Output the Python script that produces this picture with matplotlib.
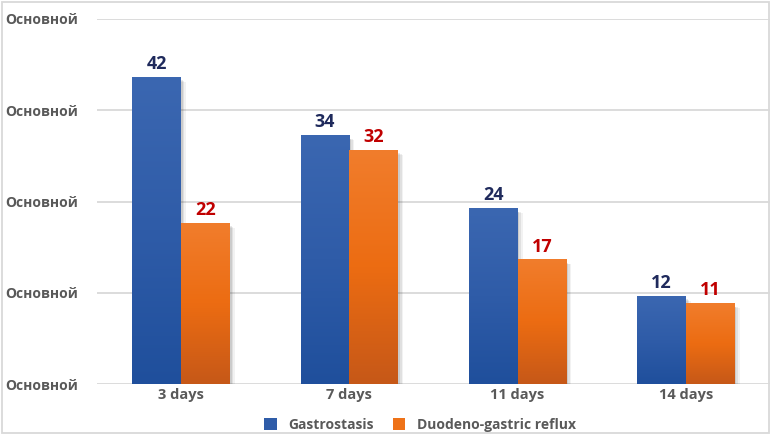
import numpy as np
import matplotlib.pyplot as plt
from matplotlib.patches import Rectangle
from matplotlib.colors import LinearSegmentedColormap

# Data
categories = ["3 days", "7 days", "11 days", "14 days"]
gastrostasis = [42, 34, 24, 12]
reflux = [22, 32, 17, 11]
series_names = ["Gastrostasis", "Duodeno-gastric reflux"]
y_ticks = [0, 12.5, 25, 37.5, 50]
y_tick_labels = ["Основной"] * 5

plt.rcParams['font.family'] = ['Open Sans', 'DejaVu Sans']

blue_cmap = LinearSegmentedColormap.from_list("b", ["#3b67b1", "#2f5ca8", "#1f4f9c"])
orange_cmap = LinearSegmentedColormap.from_list("o", ["#f17d2c", "#ec6c12", "#c65818"])

fig = plt.figure(figsize=(7.75, 4.45), dpi=100)
ax = fig.add_axes([97 / 775, 61 / 445, 673 / 775, 365 / 445])

x = np.arange(len(categories))
w = 0.29
grad = np.linspace(0, 1, 256).reshape(-1, 1)


def gradient_bar(xc, h, cmap):
    # soft shadow
    for k, a in zip([0.03, 0.02, 0.01], [0.05, 0.07, 0.09]):
        ax.add_patch(Rectangle((xc - w / 2 + k, -0.6 - k * 10), w, h + 0.3,
                               facecolor="black", alpha=a, lw=0, zorder=2))
    ax.imshow(grad, cmap=cmap, aspect="auto", extent=(xc - w / 2, xc + w / 2, 0, h),
              origin="upper", zorder=3)


for i in range(len(categories)):
    gradient_bar(x[i] - w / 2, gastrostasis[i], blue_cmap)
    gradient_bar(x[i] + w / 2, reflux[i], orange_cmap)
    ax.text(x[i] - w / 2, gastrostasis[i] + 0.6, str(gastrostasis[i]), ha="center", va="bottom",
            fontsize=13, fontweight="bold", color="#1f2a5c", zorder=4)
    ax.text(x[i] + w / 2, reflux[i] + 0.6, str(reflux[i]), ha="center", va="bottom",
            fontsize=13, fontweight="bold", color="#c00000", zorder=4)

ax.set_xlim(-0.5, len(categories) - 0.5)
ax.set_ylim(0, 50)
ax.set_yticks(y_ticks)
ax.set_yticklabels(y_tick_labels, ha="left", fontsize=10, fontweight="bold", color="#595959")
ax.tick_params(axis="y", length=0, pad=66)
ax.set_xticks(x)
ax.set_xticklabels(categories, fontsize=10.5, fontweight="bold", color="#595959")
ax.tick_params(axis="x", length=0, pad=3)
ax.grid(axis="y", color="#d9d9d9", linewidth=1.3, zorder=0)
ax.set_axisbelow(True)
for s in ax.spines.values():
    s.set_visible(False)

handles = [Rectangle((0, 0), 1, 1, facecolor="#2f5ca8"),
           Rectangle((0, 0), 1, 1, facecolor="#ee7218")]
leg = fig.legend(handles, series_names, loc="center", bbox_to_anchor=(420 / 775, 1 - 425 / 445),
                 ncol=2, frameon=False, handlelength=0.9, handleheight=0.9, columnspacing=1.4,
                 handletextpad=0.8, prop={"size": 10, "weight": "bold"})
for t in leg.get_texts():
    t.set_color("#595959")

fig.add_artist(Rectangle((2 / 775, 1 - 433 / 445), 767 / 775, 431 / 445, transform=fig.transFigure,
                         fill=False, edgecolor="#d9d9d9", linewidth=1.3))

fig.savefig("out.png", dpi=100)
